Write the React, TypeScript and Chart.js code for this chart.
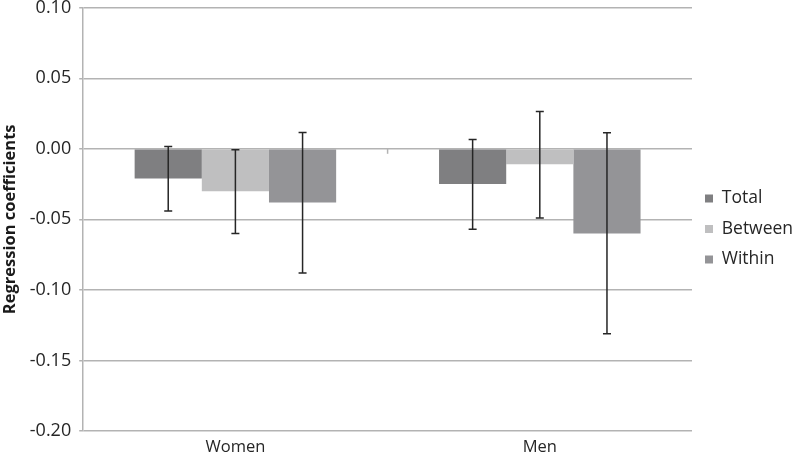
import React, { useEffect, useRef } from "react";
import { Chart, registerables } from "chart.js";

Chart.register(...registerables);

const categories = ["Women", "Men"];
const seriesNames = ["Total", "Between", "Within"];
const totalValues = [-0.021, -0.025];
const betweenValues = [-0.030, -0.011];
const withinValues = [-0.038, -0.060];
const totalLow = [-0.044, -0.057];
const totalHigh = [0.0016, 0.0066];
const betweenLow = [-0.060, -0.049];
const betweenHigh = [-0.0007, 0.0265];
const withinLow = [-0.088, -0.131];
const withinHigh = [0.0115, 0.0113];
const seriesColors = ["#7f7f81", "#bfbfc0", "#949497"];
const yTicks = [-0.2, -0.15, -0.1, -0.05, 0, 0.05, 0.1];

const lows = [totalLow, betweenLow, withinLow];
const highs = [totalHigh, betweenHigh, withinHigh];

const FONT = "'Open Sans', 'Noto Sans', sans-serif";

const errorBarPlugin = {
  id: "errorBars",
  afterDatasetsDraw(chart: any) {
    const ctx = chart.ctx;
    const y = chart.scales.y;
    ctx.save();
    ctx.strokeStyle = "#b3b3b3";
    ctx.lineWidth = 1.5;
    const zeroY = y.getPixelForValue(0);
    for (let i = 1; i < categories.length; i++) {
      const px = chart.chartArea.left + ((chart.chartArea.right - chart.chartArea.left) * i) / categories.length;
      ctx.beginPath();
      ctx.moveTo(px, zeroY);
      ctx.lineTo(px, zeroY + 5);
      ctx.stroke();
    }
    ctx.strokeStyle = "#262626";
    ctx.lineWidth = 1.5;
    chart.data.datasets.forEach((ds: any, di: number) => {
      const meta = chart.getDatasetMeta(di);
      meta.data.forEach((bar: any, i: number) => {
        const cx = bar.x;
        const yl = y.getPixelForValue(lows[di][i]);
        const yh = y.getPixelForValue(highs[di][i]);
        ctx.beginPath();
        ctx.moveTo(cx, yl);
        ctx.lineTo(cx, yh);
        ctx.moveTo(cx - 4, yl);
        ctx.lineTo(cx + 4, yl);
        ctx.moveTo(cx - 4, yh);
        ctx.lineTo(cx + 4, yh);
        ctx.stroke();
      });
    });
    ctx.restore();
  },
};

export default function App() {
  const ref = useRef<HTMLCanvasElement>(null);
  useEffect(() => {
    document.body.style.margin = "0";
    const chart = new Chart(ref.current!, {
      type: "bar",
      data: {
        labels: categories,
        datasets: [totalValues, betweenValues, withinValues].map((vals, i) => ({
          label: seriesNames[i],
          data: vals,
          backgroundColor: seriesColors[i],
          borderWidth: 0,
          categoryPercentage: 0.662,
          barPercentage: 1.0,
        })),
      },
      options: {
        responsive: false,
        animation: false,
        devicePixelRatio: 1,
        layout: { padding: { left: 0, right: 0, top: 0, bottom: 0 } },
        plugins: {
          tooltip: { enabled: false },
          legend: {
            position: "right",
            maxWidth: 100,
            labels: {
              boxWidth: 8,
              boxHeight: 8,
              padding: 13,
              color: "#262626",
              font: { family: FONT, size: 17.5 },
            },
          },
        },
        scales: {
          x: {
            grid: { display: false, drawTicks: false },
            border: { display: false },
            ticks: { color: "#262626", font: { family: FONT, size: 16.5 }, padding: 6 },
            afterFit(axis: any) {
              axis.height = 27;
            },
          },
          y: {
            min: -0.2,
            max: 0.1,
            afterBuildTicks(axis: any) {
              axis.ticks = yTicks.map((v) => ({ value: v }));
            },
            afterFit(axis: any) {
              axis.paddingTop = 7.7;
              axis.paddingBottom = 0;
            },
            grid: { color: "#b3b3b3", lineWidth: 1.5, tickLength: 4 },
            border: { color: "#b3b3b3", width: 1.5 },
            ticks: {
              color: "#262626",
              font: { family: FONT, size: 18, lineHeight: 1 },
              padding: 8,
              callback: (v: any) => Number(v).toFixed(2),
            },
            title: {
              display: true,
              text: "Regression coefficients",
              color: "#1a1a1a",
              font: { family: FONT, size: 16.5, weight: "bold" },
              padding: { top: 0, bottom: 2 },
            },
          },
        },
      },
      plugins: [errorBarPlugin],
    });
    return () => chart.destroy();
  }, []);
  return (
    <div style={{ width: 792, height: 458 }}>
      <canvas ref={ref} width={792} height={458} />
    </div>
  );
}
